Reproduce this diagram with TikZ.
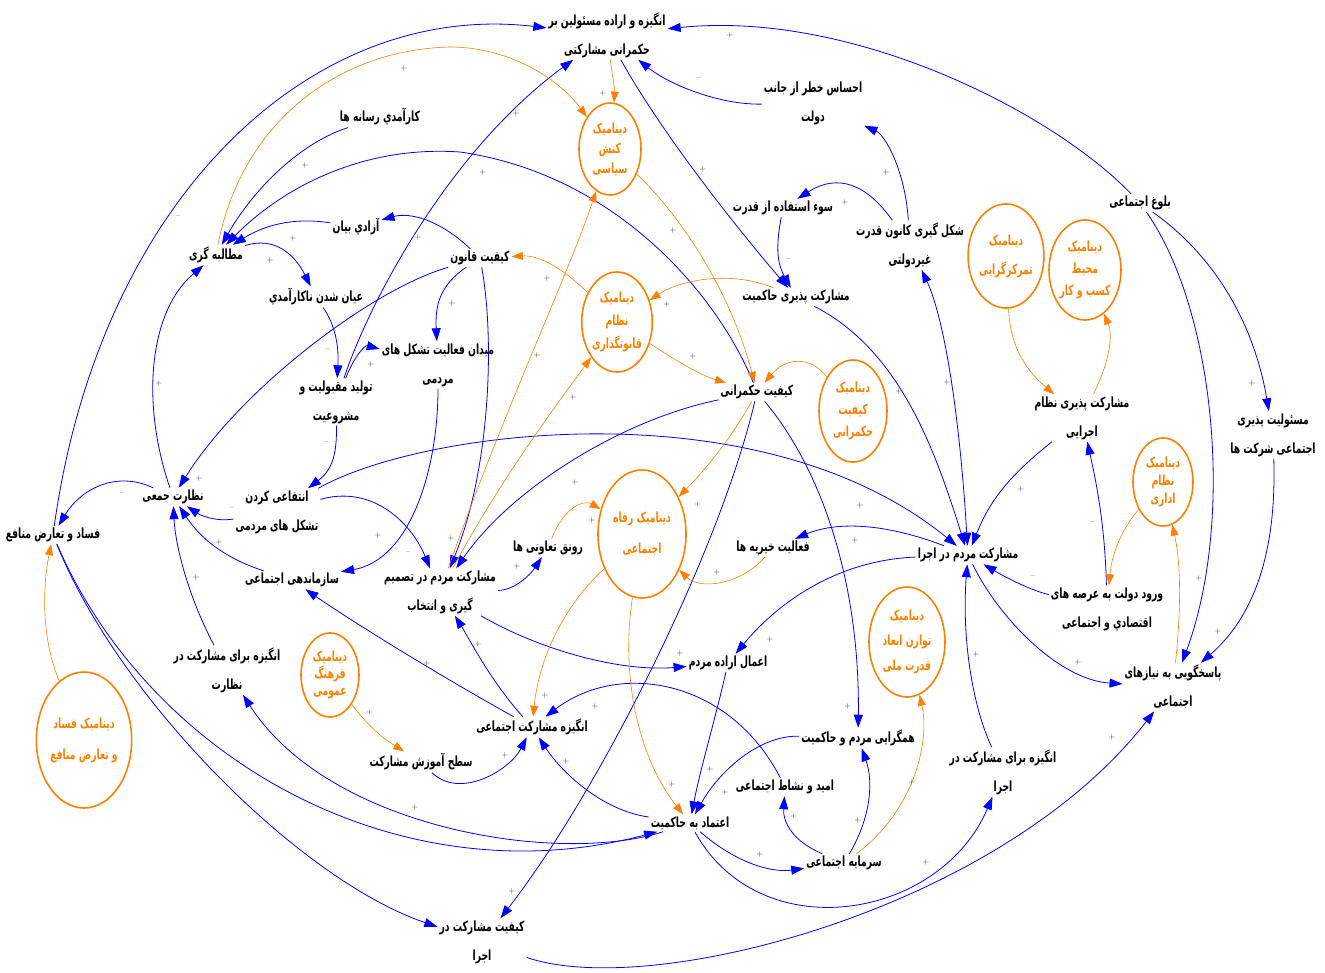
\documentclass[tikz,border=0pt]{standalone}
\usepackage{fontspec}
\usetikzlibrary{arrows.meta,shapes.geometric}
\newfontfamily\fafont[Script=Arabic, FakeStretch=0.66]{DejaVu Sans}
\TeXXeTstate=1
\newcommand{\fa}[1]{\beginR#1\endR}
\definecolor{cblue}{RGB}{0,0,255}
\definecolor{corange}{RGB}{255,128,0}
\tikzset{
  lbl/.style={font=\fafont\bfseries\fontsize{14}{29}\selectfont, align=center, inner sep=2pt},
  dyn/.style={ellipse, draw=corange, line width=1.6pt, text=corange, align=center, inner sep=0pt,
    font=\fafont\bfseries\fontsize{14}{#1}\selectfont},
  barr/.style={draw=cblue, line width=0.8pt, -{Triangle[length=13pt,width=9pt]}},
  bboth/.style={draw=cblue, line width=0.8pt, {Triangle[length=13pt,width=9pt]}-{Triangle[length=13pt,width=9pt]}},
  oarr/.style={draw=corange, line width=0.6pt, -{Triangle[length=11pt,width=8pt]}},
  sg/.style={font=\fontsize{8}{8}\selectfont, text=black!80, inner sep=0pt},
}
\begin{document}
\begin{tikzpicture}[x=1pt,y=-1pt]
\useasboundingbox (0,0) rectangle (1325,972);

% variables
\node[lbl] (A) at (607,35) {\fa{انگیزه و اراده مسئولین بر}\\\fa{حکمرانی مشارکتی}};
\node[lbl] (B) at (813,103) {\fa{احساس خطر از جانب}\\\fa{دولت}};
\node[lbl] (C) at (380,117) {\fa{کارآمدي رسانه ها}};
\node[lbl] (E) at (783,208) {\fa{سوء استفاده از قدرت}};
\node[lbl] (F) at (910,245) {\fa{شکل گیری کانون قدرت}\\\fa{غیردولتی}};
\node[lbl] (G) at (1140,203) {\fa{بلوغ اجتماعی}};
\node[lbl] (J) at (216,255) {\fa{مطالبه گری}};
\node[lbl] (K) at (356,227) {\fa{آزادي بیان}};
\node[lbl] (L) at (480,258) {\fa{کیفیت قانون}};
\node[lbl] (M) at (316,297) {\fa{عیان شدن ناکارآمدي}};
\node[lbl] (O) at (796,297) {\fa{مشارکت پذیری حاکمیت}};
\node[lbl] (P) at (438,365) {\fa{میدان فعالیت تشکل های}\\\fa{مردمی}};
\node[lbl] (Q) at (336,402) {\fa{تولید مقبولیت و}\\\fa{مشروعیت}};
\node[lbl] (R) at (757,392) {\fa{کیفیت حکمرانی}};
\node[lbl] (T) at (1082,418) {\fa{مشارکت پذیری نظام}\\\fa{اجرایی}};
\node[lbl] (U) at (1273,435) {\fa{مسئولیت پذیری}\\\fa{اجتماعی شرکت ها}};
\node[lbl] (W) at (173,497) {\fa{نظارت جمعی}};
\node[lbl] (X) at (277,512) {\fa{انتفاعی کردن}\\\fa{تشکل های مردمی}};
\node[lbl] (Y) at (53,535) {\fa{فساد و تعارض منافع}};
\node[lbl] (Z) at (292,580) {\fa{سازماندهی اجتماعی}};
\node[lbl] (AA) at (440,592) {\fa{مشارکت مردم در تصمیم}\\\fa{گیری و انتخاب}};
\node[lbl] (AB) at (548,548) {\fa{رونق تعاونی ها}};
\node[lbl] (AD) at (773,548) {\fa{فعالیت خیریه ها}};
\node[lbl] (AE) at (968,555) {\fa{مشارکت مردم در اجرا}};
\node[lbl] (AF) at (1107,609) {\fa{ورود دولت به عرصه های}\\\fa{اقتصادي و اجتماعی}};
\node[lbl] (AH) at (227,670) {\fa{انگیزه برای مشارکت در}\\\fa{نظارت}};
\node[lbl] (AJ) at (728,663) {\fa{اعمال اراده مردم}};
\node[lbl] (AK) at (1173,687) {\fa{پاسخگویی به نیازهای}\\\fa{اجتماعی}};
\node[lbl] (AM) at (532,727) {\fa{انگیزه مشارکت اجتماعی}};
\node[lbl] (AN) at (858,738) {\fa{همگرایی مردم و حاکمیت}};
\node[lbl] (AO) at (1003,772) {\fa{انگیزه برای مشارکت در}\\\fa{اجرا}};
\node[lbl] (AP) at (421,762) {\fa{سطح آموزش مشارکت}};
\node[lbl] (AQ) at (785,787) {\fa{امید و نشاط اجتماعی}};
\node[lbl] (AR) at (690,823) {\fa{اعتماد به حاکمیت}};
\node[lbl] (AS) at (844,863) {\fa{سرمایه اجتماعی}};
\node[lbl] (AT) at (482,942) {\fa{کیفیت مشارکت در}\\\fa{اجرا}};

% dynamics
\node[dyn=20, minimum width=62pt, minimum height=92pt] (D) at (610,149) {\fa{دینامیک}\\\fa{کنش}\\\fa{سیاسی}};
\node[dyn=29, minimum width=72pt, minimum height=104pt] (H) at (1006,256) {\fa{دینامیک}\\\fa{تمرکزگرایی}};
\node[dyn=22, minimum width=68pt, minimum height=100pt] (I) at (1085,270) {\fa{دینامیک}\\\fa{محیط}\\\fa{کسب و کار}};
\node[dyn=23, minimum width=70pt, minimum height=100pt] (N) at (617,322) {\fa{دینامیک}\\\fa{نظام}\\\fa{قانونگذاری}};
\node[dyn=22, minimum width=68pt, minimum height=102pt] (S) at (853,411) {\fa{دینامیک}\\\fa{کیفیت}\\\fa{حکمرانی}};
\node[dyn=18, minimum width=60pt, minimum height=88pt] (V) at (1163,482) {\fa{دینامیک}\\\fa{نظام}\\\fa{اداری}};
\node[dyn=31, minimum width=88pt, minimum height=128pt] (AC) at (642,534) {\fa{دینامیک رفاه}\\\fa{اجتماعی}};
\node[dyn=25, minimum width=76pt, minimum height=110pt] (AI) at (907,642) {\fa{دینامیک}\\\fa{توازن ابعاد}\\\fa{قدرت ملی}};
\node[dyn=17, minimum width=58pt, minimum height=84pt] (AG) at (330,675) {\fa{دینامیک}\\\fa{فرهنگ}\\\fa{عمومی}};
\node[dyn=31, minimum width=94pt, minimum height=136pt] (AL) at (84,740) {\fa{دینامیک فساد}\\\fa{و تعارض منافع}};

% causal links
\draw[barr] (Y) .. controls (100,200) and (310,0) .. (A);
\draw[barr] (G) .. controls (1050,110) and (850,10) .. (A);
\draw[barr] (B) .. controls (720,105) and (670,85) .. (A);
\draw[barr] (A) .. controls (660,130) and (730,220) .. (O);
\draw[barr] (C) .. controls (295,145) and (250,195) .. (J);
\draw[barr] (R) .. controls (720,300) and (620,175) .. (460,152) .. controls (360,145) and (280,190) .. (J);
\draw[barr] (K) .. controls (300,218) and (270,222) .. (J);
\draw[barr] (J) .. controls (275,236) and (295,255) .. (M);
\draw[barr] (L) .. controls (440,220) and (410,212) .. (K);
\draw[barr] (L) .. controls (440,285) and (435,305) .. (P);
\draw[barr] (L) .. controls (370,290) and (240,390) .. (W);
\draw[barr] (L) .. controls (495,340) and (490,470) .. (AA);
\draw[barr] (M) .. controls (335,325) and (339,345) .. (Q);
\draw[barr] (Q) .. controls (370,300) and (450,150) .. (A);
\draw[barr] (Q) .. controls (355,355) and (365,345) .. (P);
\draw[barr] (Q) .. controls (337,455) and (332,470) .. (X);
\draw[barr] (P) .. controls (438,470) and (410,560) .. (Z);
\draw[barr] (X) .. controls (370,485) and (410,520) .. (AA);
\draw[barr] (X) .. controls (420,430) and (760,385) .. (AE);
\draw[barr] (W) .. controls (115,470) and (80,490) .. (Y);
\draw[barr] (X) .. controls (215,522) and (200,515) .. (W);
\draw[barr] (Z) .. controls (215,555) and (195,530) .. (W);
\draw[barr] (AH) .. controls (185,590) and (175,540) .. (W);
\draw[barr] (W) .. controls (140,400) and (150,310) .. (J);
\draw[barr] (Y) .. controls (120,700) and (300,880) .. (AT);
\draw[barr] (Y) .. controls (150,760) and (400,900) .. (AR);
\draw[barr] (AR) .. controls (560,865) and (330,830) .. (AH);
\draw[barr] (AA) .. controls (515,590) and (530,575) .. (AB);
\draw[barr] (R) .. controls (620,420) and (510,490) .. (AA);
\draw[barr] (R) .. controls (720,550) and (600,790) .. (AT);
\draw[barr] (R) .. controls (830,480) and (860,600) .. (AN);
\draw[barr] (O) .. controls (900,350) and (935,450) .. (AE);
\draw[barr] (F) .. controls (905,170) and (885,135) .. (B);
\draw[barr] (F) .. controls (860,175) and (830,178) .. (E);
\draw[barr] (E) .. controls (775,250) and (778,265) .. (O);
\draw[bboth] (AE) .. controls (960,420) and (945,320) .. (F);
\draw[barr] (T) .. controls (1010,475) and (990,500) .. (AE);
\draw[barr] (G) .. controls (1215,310) and (1235,520) .. (AK);
\draw[barr] (G) .. controls (1220,260) and (1255,330) .. (U);
\draw[barr] (U) .. controls (1277,560) and (1250,620) .. (AK);
\draw[barr] (AF) .. controls (1105,530) and (1098,490) .. (T);
\draw[barr] (AF) .. controls (1030,590) and (1005,577) .. (AE);
\draw[barr] (AE) .. controls (1000,620) and (1060,680) .. (AK);
\draw[barr] (AE) .. controls (890,525) and (840,520) .. (AD);
\draw[barr] (AE) .. controls (840,560) and (780,600) .. (AJ);
\draw[barr] (AA) .. controls (540,650) and (620,672) .. (AJ);
\draw[barr] (AJ) .. controls (715,720) and (700,770) .. (AR);
\draw[barr] (AO) .. controls (970,700) and (962,630) .. (AE);
\draw[barr] (AM) .. controls (490,680) and (470,640) .. (AA);
\draw[barr] (AP) .. controls (460,800) and (510,770) .. (AM);
\draw[barr] (AR) .. controls (600,810) and (560,770) .. (AM);
\draw[barr] (AQ) .. controls (730,680) and (620,660) .. (AM);
\draw[barr] (AN) .. controls (760,735) and (720,770) .. (AR);
\draw[barr] (AS) .. controls (790,840) and (783,820) .. (AQ);
\draw[barr] (AS) .. controls (872,815) and (873,780) .. (AN);
\draw[barr] (AR) .. controls (735,862) and (770,873) .. (AS);
\draw[barr] (AR) .. controls (760,950) and (940,920) .. (AO);
\draw[barr] (AT) .. controls (650,1000) and (1000,910) .. (AK);
\draw[barr] (AM) .. controls (430,670) and (350,620) .. (Z);

\draw[oarr] (A) .. controls (613,80) and (615,90) .. (D);
\draw[oarr] (J) .. controls (240,130) and (330,50) .. (450,47) .. controls (510,47) and (560,80) .. (D);
\draw[oarr] (AL) .. controls (42,640) and (42,590) .. (Y);
\draw[oarr] (AB) .. controls (565,505) and (585,500) .. (AC);
\draw[oarr] (AA) .. controls (500,420) and (570,270) .. (D);
\draw[oarr] (AA) .. controls (500,480) and (560,400) .. (N);
\draw[oarr] (N) .. controls (565,270) and (540,255) .. (L);
\draw[oarr] (N) .. controls (675,360) and (700,375) .. (R);
\draw[oarr] (O) .. controls (730,270) and (680,280) .. (N);
\draw[oarr] (D) .. controls (680,215) and (730,290) .. (R);
\draw[oarr] (S) .. controls (810,355) and (785,358) .. (R);
\draw[oarr] (R) .. controls (730,440) and (705,470) .. (AC);
\draw[oarr] (H) .. controls (1010,340) and (1020,365) .. (T);
\draw[oarr] (T) .. controls (1110,360) and (1113,335) .. (I);
\draw[oarr] (V) .. controls (1125,525) and (1112,550) .. (AF);
\draw[oarr] (AK) .. controls (1182,600) and (1180,560) .. (V);
\draw[oarr] (AD) .. controls (740,585) and (700,590) .. (AC);
\draw[oarr] (AS) .. controls (915,810) and (930,740) .. (AI);
\draw[oarr] (AC) .. controls (570,600) and (540,650) .. (AM);
\draw[oarr] (AC) .. controls (620,680) and (640,760) .. (AR);
\draw[oarr] (AG) .. controls (365,722) and (378,735) .. (AP);

% polarity marks
\foreach \x/\y/\s [count=\i] in {
 178/217/–, 730/35/+, 699/79/–, 703/169/+, 603/93/+, 404/68/+, 305/165/+, 483/172/+,
 293/238/+, 270/260/+, 418/237/+, 452/303/+, 199/478/+, 451/538/+, 328/350/–, 516/113/+,
 371/364/+, 326/443/–, 378/535/+, 408/553/–, 860/505/+, 122/494/–, 232/509/–, 219/542/+,
 196/577/+, 159/383/+, 260/823/–, 312/808/–, 415/807/+, 517/566/+, 592/520/+, 575/482/+,
 537/355/+, 573/397/+, 547/278/+, 693/356/+, 667/304/+, 673/230/+, 698/504/+, 512/891/+,
 848/706/+, 899/391/+, 886/172/+, 845/202/+, 789/260/–, 947/382/+, 1021/489/+, 1199/578/+,
 1252/383/+, 1218/631/+, 1093/523/–, 1033/577/–, 1078/662/+, 855/540/+, 717/572/+, 770/639/+,
 680/653/+, 710/769/+, 976/654/+, 912/782/+, 545/695/+, 672/784/+, 478/644/+, 505/755/+,
 370/712/+, 566/761/+, 595/706/+, 725/792/+, 794/816/+, 858/820/+, 760/854/+, 926/862/+,
 1112/737/+, 427/663/+}
  \node[sg] (sg\i) at (\x,\y) {\s};
\end{tikzpicture}
\end{document}
